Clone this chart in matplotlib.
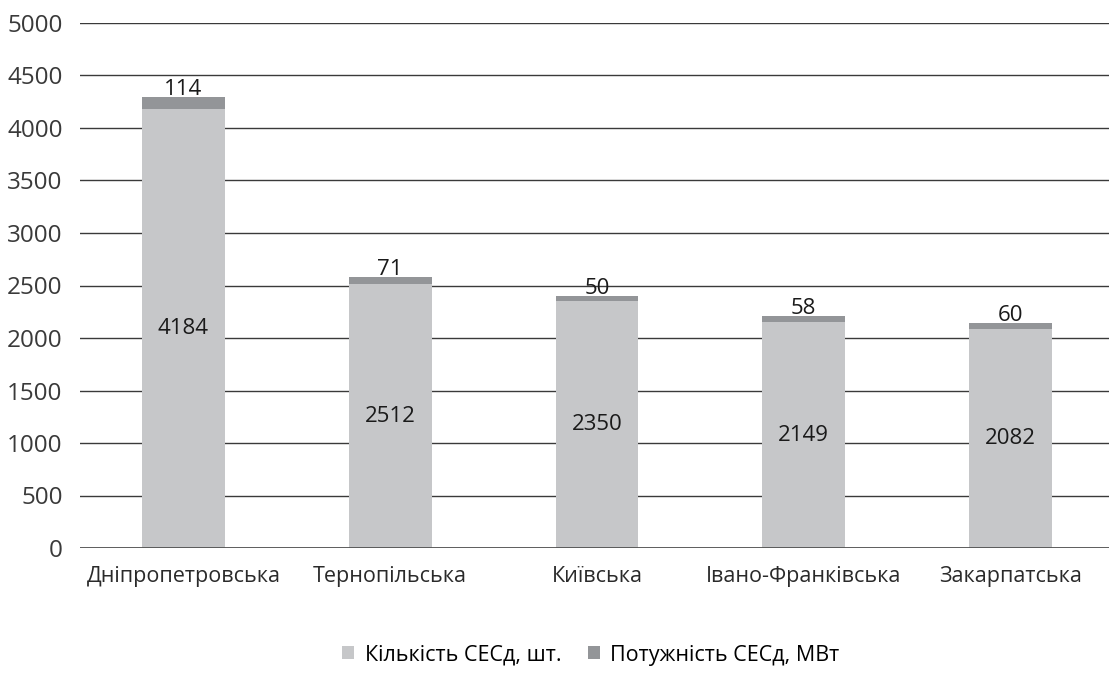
import matplotlib
matplotlib.use("Agg")
import matplotlib.pyplot as plt
from matplotlib.patches import Patch

plt.rcParams['font.family'] = ['Open Sans', 'DejaVu Sans']

regions = ["Дніпропетровська", "Тернопільська", "Київська", "Івано-Франківська", "Закарпатська"]
count = [4184, 2512, 2350, 2149, 2082]
power = [114, 71, 50, 58, 60]
series_names = ["Кількість СЕСд, шт.", "Потужність СЕСд, МВт"]

c_light = "#c6c7c9"
c_dark = "#939598"

fig = plt.figure(figsize=(11.09, 6.73), dpi=100)
ax = fig.add_axes([80/1109, 1 - 548/673, 1034/1109, 525/673])

x = list(range(len(regions)))
w = 0.40
ax.bar(x, count, width=w, color=c_light, zorder=3)
ax.bar(x, power, width=w, bottom=count, color=c_dark, zorder=3)

for i in x:
    ax.text(i, count[i] / 2, str(count[i]), ha='center', va='center', fontsize=16, color='#1a1a1a', zorder=4)
    ax.text(i, count[i] + power[i] + 20, str(power[i]), ha='center', va='baseline', fontsize=16, color='#1a1a1a', zorder=4)

ax.set_ylim(0, 5000)
ax.set_xlim(-0.5, len(regions) - 0.5)
ax.set_yticks(range(0, 5001, 500))
ax.set_yticklabels([str(v) for v in range(0, 5001, 500)], fontsize=17.5, color='#3a3a3a')
ax.set_xticks(x)
ax.set_xticklabels(regions, fontsize=15.5, color='#2a2a2a')
ax.tick_params(axis='both', length=0)
ax.tick_params(axis='y', pad=12.5)
ax.tick_params(axis='x', pad=13)
for s in ax.spines.values():
    s.set_visible(False)
ax.yaxis.grid(True, color='#3a3a3a', linewidth=1.0, zorder=1)
ax.axhline(0, color='#3a3a3a', linewidth=1.8, zorder=5)
ax.set_axisbelow(True)

handles = [Patch(facecolor=c_light), Patch(facecolor=c_dark)]
fig.legend(handles, series_names, loc='center', bbox_to_anchor=(591/1109, 1 - 655/673),
           ncol=2, frameon=False, fontsize=15.5, handlelength=0.56, handleheight=0.56,
           handletextpad=0.47, columnspacing=1.25, borderpad=0, borderaxespad=0)

fig.savefig("out.png", dpi=100)
